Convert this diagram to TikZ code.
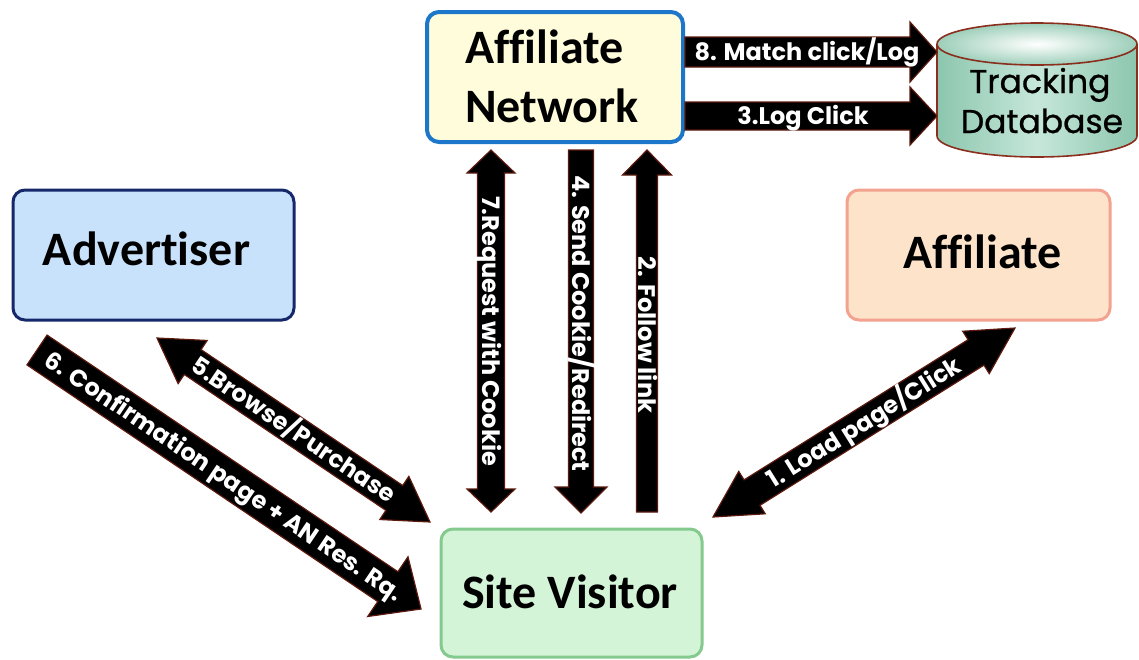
\documentclass[tikz,border=0pt]{standalone}
\usepackage{fontspec}
\setmainfont{Carlito}[Ligatures=NoCommon]
\newfontfamily\gothic{Poppins}
\newfontfamily\gothicmed{Poppins}[FakeBold=0.8]
\usetikzlibrary{calc}

\definecolor{anfill}{HTML}{FFFCDB}
\definecolor{anedge}{HTML}{1C76CA}
\definecolor{advfill}{HTML}{C9E2FC}
\definecolor{advedge}{HTML}{15286A}
\definecolor{afffill}{HTML}{FDE3CA}
\definecolor{affedge}{HTML}{F2A28E}
\definecolor{svfill}{HTML}{D3F4D7}
\definecolor{svedge}{HTML}{84C98D}
\definecolor{dbedge}{HTML}{8A2E1E}
\definecolor{dbdark}{HTML}{8CC6AE}
\definecolor{dblight}{HTML}{C6E7DA}
\definecolor{arrowedge}{HTML}{5C1A0E}

\tikzset{
  box/.style={rounded corners=12pt, line width=3pt, inner sep=0pt},
  boxlbl/.style={font=\bfseries\fontsize{48}{59}\selectfont, anchor=base, inner sep=0pt},
  dblbl/.style={font=\gothicmed\fontsize{33}{38}\selectfont, anchor=base, inner sep=0pt},
  arrowbody/.style={fill=black, draw=arrowedge, line width=1.2pt, line join=miter},
  arrowlbl/.style={text=white, font=\gothic\bfseries\fontsize{24}{26}\selectfont,
    inner sep=0pt, text height=16.8pt, text depth=0pt, anchor=center},
}

% Block arrow between two named coordinates.
% #1 label node name, #2 start, #3 end, #4 tips (e = at end, s = at start, b = both),
% #5 shaft half width, #6 head half width, #7 head length, #8 label shift along arrow, #9 label
\newcommand\blockarrow[9]{%
  \path let \p1=($(#3)-(#2)$) in
    \pgfextra{\pgfmathsetmacro\baA{atan2(\y1,\x1)}\pgfmathsetmacro\baL{veclen(\x1,\y1)}%
      \xdef\baang{\baA}\xdef\balen{\baL}};
  \begin{scope}[shift={(#2)}, rotate=\baang]
    \if#4e
      \draw[arrowbody] (0,-#5) -- ({\balen-#7},-#5) -- ({\balen-#7},-#6) -- (\balen,0)
        -- ({\balen-#7},#6) -- ({\balen-#7},#5) -- (0,#5) -- cycle;
    \else\if#4s
      \draw[arrowbody] (\balen,-#5) -- (#7,-#5) -- (#7,-#6) -- (0,0)
        -- (#7,#6) -- (#7,#5) -- (\balen,#5) -- cycle;
    \else
      \draw[arrowbody] (0,0) -- (#7,-#6) -- (#7,-#5) -- ({\balen-#7},-#5) -- ({\balen-#7},-#6)
        -- (\balen,0) -- ({\balen-#7},#6) -- ({\balen-#7},#5) -- (#7,#5) -- (#7,#6) -- cycle;
    \fi\fi
    \node[arrowlbl, transform shape] (#1) at ({\balen/2+#8},0) {#9};
  \end{scope}}

\begin{document}
\begin{tikzpicture}[x=1pt, y=-1pt]
\useasboundingbox (0,0) rectangle (1139,659);

% --- boxes -------------------------------------------------------------
\node[box, draw=anedge, fill=anfill, line width=4pt, minimum width=256pt, minimum height=130pt] (an) at (555,77) {};
\node[box, draw=advedge, fill=advfill, minimum width=281pt, minimum height=130pt] (adv) at (153.5,255) {};
\node[box, draw=affedge, fill=afffill, minimum width=263pt, minimum height=130pt] (aff) at (978.5,255) {};
\node[box, draw=svedge, fill=svfill, minimum width=261pt, minimum height=128pt] (sv) at (571.5,593) {};

\node[boxlbl, anchor=base west] (ant1) at (465,63) {Affiliate};
\node[boxlbl, anchor=base west] (ant2) at (465,122) {Network};
\node[boxlbl] (advt) at (146.5,265) {Advertiser};
\node[boxlbl] (afft) at (982.5,268) {Affiliate};
\node[boxlbl] (svt) at (570,608) {Site Visitor};

% --- tracking database cylinder ---------------------------------------
\shade[left color=dbdark, right color=dbdark, middle color=dblight]
  (937,44) -- (937,136) arc[start angle=180, end angle=0, x radius=100, y radius=21]
  -- (1137,44) arc[start angle=0, end angle=-180, x radius=100, y radius=21] -- cycle;
\draw[dbedge, line width=1.6pt]
  (937,44) -- (937,136) arc[start angle=180, end angle=0, x radius=100, y radius=21]
  -- (1137,44);
\shade[inner color=white, outer color=dbdark!85] (1037,44) ellipse[x radius=100, y radius=21];
\draw[dbedge, line width=1.6pt] (1037,44) ellipse[x radius=100, y radius=21];
\node[dblbl] (db1) at (1040,93) {Tracking};
\node[dblbl] (db2) at (1042,133) {Database};

% --- arrow end points ---------------------------------------------------
\coordinate (p8s) at (685,52);   \coordinate (p8e) at (937,52);
\coordinate (p3s) at (685,116);  \coordinate (p3e) at (937,116);
\coordinate (p7s) at (491,150);  \coordinate (p7e) at (491,512);
\coordinate (p4s) at (581,150);  \coordinate (p4e) at (581,513);
\coordinate (p2s) at (647,150);  \coordinate (p2e) at (647,512);
\coordinate (p5s) at (157,338);  \coordinate (p5e) at (430,522);
\coordinate (p6s) at (37,350);   \coordinate (p6e) at (421,609);
\coordinate (p1s) at (713,517);  \coordinate (p1e) at (1015,328);

% --- block arrows -------------------------------------------------------
\blockarrow{a8}{p8s}{p8e}{e}{15}{30}{27}{-4}{8. Match click/Log}
\blockarrow{a3}{p3s}{p3e}{e}{14}{29}{27}{-8}{3.Log Click}
\blockarrow{a7}{p7s}{p7e}{b}{13.5}{24}{23}{0}{7.Request with Cookie}
\blockarrow{a4}{p4s}{p4e}{e}{12.5}{26}{26}{-8}{4. Send Cookie/Redirect}
\blockarrow{a2}{p2s}{p2e}{s}{10.5}{24.5}{25}{4}{2. Follow link}
\blockarrow{a5}{p5s}{p5e}{b}{15}{26}{43}{0}{5.Browse/Purchase}
\blockarrow{a6}{p6s}{p6e}{e}{18}{36}{40}{-6}{6. Confirmation page + AN Res. Rq.}
\blockarrow{a1}{p1s}{p1e}{b}{15}{25}{46}{0}{1. Load page/Click}
\end{tikzpicture}
\end{document}
